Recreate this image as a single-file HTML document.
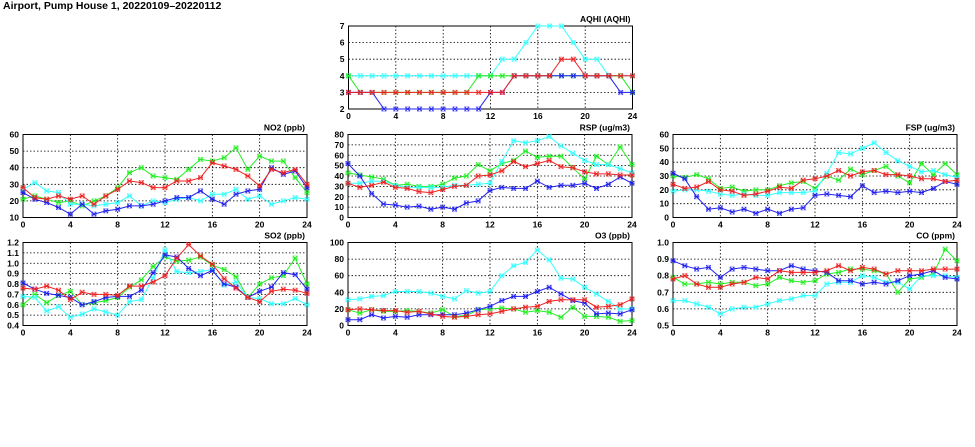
<!DOCTYPE html>
<html><head><meta charset="utf-8"><style>
html,body{margin:0;padding:0;background:#fff}
svg{display:block;font-family:"Liberation Sans",sans-serif;font-weight:bold}
</style></head><body>
<svg id="chart" width="975" height="447" viewBox="0 0 975 447" xmlns="http://www.w3.org/2000/svg">
<text x="3" y="9" font-size="10.5" fill="#000">Airport, Pump House 1, 20220109–20220112</text>
</svg>
<script>
const hours = [0,1,2,3,4,5,6,7,8,9,10,11,12,13,14,15,16,17,18,19,20,21,22,23,24];
const xTicks = [0,4,8,12,16,20,24];

const aqhiTicks = [2,3,4,5,6,7];
const aqhiCyan  = [4,4,4,4,4,4,4,4,4,4,4,4,4,5,5,6,7,7,7,6,5,5,4,4,4];
const aqhiGreen = [4,3,3,3,3,3,3,3,3,3,3,4,4,4,4,4,4,4,4,4,4,4,4,4,3];
const aqhiBlue  = [3,3,3,2,2,2,2,2,2,2,2,2,3,3,4,4,4,4,4,4,4,4,4,3,3];
const aqhiRed   = [3,3,3,3,3,3,3,3,3,3,3,3,3,3,4,4,4,4,5,5,4,4,4,4,4];

const no2Ticks = [10,20,30,40,50,60];
const no2Green = [21,23,21,19,20,17,20,23,28,37,40,35,34,33,39,45,44,46,52,39,47,44,44,34,25];
const no2Cyan  = [27,31,26,25,18,18,17,18,19,23,17,20,19,21,22,20,24,24,27,21,23,18,20,22,21];
const no2Blue  = [25,21,19,16,12,18,12,14,15,17,17,18,20,22,22,26,21,18,24,26,27,40,36,38,28];
const no2Red   = [28,22,21,23,21,23,18,23,27,32,31,28,28,32,32,34,43,41,39,35,29,39,37,39,30];

const rspTicks = [0,10,20,30,40,50,60,70,80];
const rspGreen = [43,41,39,37,31,32,30,30,32,38,40,51,45,52,55,64,58,59,59,48,37,59,51,68,51];
const rspCyan  = [33,33,35,35,31,29,29,29,29,31,31,32,33,54,74,72,74,78,69,62,55,51,51,47,43];
const rspBlue  = [52,40,23,13,12,10,11,8,10,8,14,16,26,29,28,28,35,29,31,31,33,28,32,39,33];
const rspRed   = [33,29,31,34,29,28,25,24,27,30,31,40,41,45,54,49,52,55,49,48,44,42,42,41,41];

const fspTicks = [0,10,20,30,40,50,60];
const fspGreen = [30,29,31,28,21,22,19,20,20,23,25,26,21,30,27,35,31,34,37,30,25,39,31,39,31];
const fspCyan  = [19,20,20,19,17,16,17,16,16,18,18,18,19,32,47,46,50,54,47,41,37,33,34,31,29];
const fspBlue  = [32,28,15,6,7,4,6,3,6,3,6,7,16,17,16,15,23,18,19,18,19,18,21,26,24];
const fspRed   = [24,21,22,26,20,19,16,17,19,22,21,27,28,30,34,30,33,34,31,31,30,28,28,26,27];

const so2Ticks = [0.4,0.5,0.6,0.7,0.8,0.9,1.0,1.1,1.2];
const so2Green = [.60,.70,.62,.69,.73,.60,.62,.64,.67,.77,.84,.97,1.06,1.02,1.03,1.06,.98,.94,.87,.67,.80,.86,.88,1.05,.80];
const so2Cyan  = [.68,.67,.54,.58,.48,.51,.56,.53,.50,.63,.65,.86,1.13,.92,.91,.92,.94,.79,.82,.67,.66,.61,.61,.66,.60];
const so2Blue  = [.81,.75,.71,.69,.67,.60,.63,.67,.68,.68,.74,.91,1.08,1.06,.95,.88,.93,.80,.77,.67,.73,.77,.91,.89,.75];
const so2Red   = [.76,.75,.78,.74,.65,.72,.70,.70,.69,.78,.78,.82,.88,1.05,1.18,1.07,.99,.85,.76,.67,.63,.73,.75,.74,.71];

const o3Ticks = [0,20,40,60,80,100];
const o3Green = [19,15,19,17,17,18,17,15,19,11,12,19,20,21,20,16,18,16,10,22,11,11,10,5,6];
const o3Cyan  = [31,32,35,36,41,41,41,39,35,32,42,39,41,60,72,76,91,79,57,56,46,38,29,20,20];
const o3Blue  = [7,7,13,9,11,10,13,13,13,13,15,19,23,30,35,35,41,46,38,30,27,14,15,14,19];
const o3Red   = [19,20,19,18,18,16,17,14,11,10,11,13,14,17,20,22,23,29,31,31,31,22,23,25,32];

const coTicks = [0.5,0.6,0.7,0.8,0.9,1.0];
const coGreen = [.79,.75,.75,.76,.75,.76,.76,.74,.75,.79,.77,.76,.77,.81,.82,.84,.84,.83,.81,.70,.78,.79,.81,.96,.89];
const coCyan  = [.65,.65,.63,.61,.57,.60,.61,.61,.63,.65,.66,.68,.68,.75,.76,.76,.80,.79,.76,.76,.72,.80,.80,.80,.79];
const coBlue  = [.89,.86,.84,.85,.79,.84,.85,.84,.83,.83,.86,.84,.83,.82,.77,.77,.75,.76,.75,.77,.80,.81,.83,.79,.78];
const coRed   = [.78,.80,.75,.73,.73,.75,.76,.79,.78,.83,.82,.82,.82,.83,.86,.83,.85,.84,.81,.83,.83,.83,.84,.84,.84];

const svg = document.getElementById('chart');
const NS = 'http://www.w3.org/2000/svg';
function mk(tag, attrs, parent){
  const e = document.createElementNS(NS, tag);
  for (const k in attrs) e.setAttribute(k, attrs[k]);
  parent.appendChild(e);
  return e;
}
const COLORS = {green:'#22ee22', cyan:'#33ffff', blue:'#2222ee', red:'#ee2222'};

function panel(name, title, x0, y0, ticks, fmt, series){
  const W = 284, H = 83;
  const lo = ticks[0], hi = ticks[ticks.length-1];
  const xs = h => x0 + h / 24 * W;
  const ys = v => y0 + H - (v - lo) / (hi - lo) * H;
  const g = mk('g', {}, svg);
  
  
  ticks.forEach((t,i) => {
    if (i>0 && i<ticks.length-1) {
      const l = mk('line', {x1:x0, x2:x0+W, y1:ys(t), y2:ys(t), stroke:'#000', 'stroke-width':0.8, 'stroke-dasharray':'1.5,2'}, g);
      
      
    }
    const tx = mk('text', {x:x0-4, y:ys(t)+3, 'font-size':8.5, 'text-anchor':'end'}, g);
    
    
    tx.textContent = fmt(t);
  });
  xTicks.forEach((t,i) => {
    if (i>0 && i<xTicks.length-1) {
      const l = mk('line', {x1:xs(t), x2:xs(t), y1:y0, y2:y0+H, stroke:'#000', 'stroke-width':0.8, 'stroke-dasharray':'1.5,2'}, g);
      
      
    }
    const tx = mk('text', {x:xs(t), y:y0+H+10, 'font-size':8.5, 'text-anchor':'middle'}, g);
    
    
    tx.textContent = t;
  });
  const fr = mk('rect', {x:x0, y:y0, width:W, height:H, fill:'none', stroke:'#000', 'stroke-width':1}, g);
  
  
  const tt = mk('text', {x:x0+W-2, y:y0-4, 'font-size':8.5, 'text-anchor':'end'}, g);
  
  
  tt.textContent = title;
  series.forEach(([cname, vals]) => {
    const c = COLORS[cname];
    const sg = mk('g', {}, g);
    
    
    const pts = vals.map((v,i) => xs(hours[i]).toFixed(1) + ',' + ys(v).toFixed(1)).join(' ');
    mk('polyline', {points:pts, fill:'none', stroke:c, 'stroke-width':1}, sg);
    vals.forEach((v,i) => {
      const px = xs(hours[i]), py = ys(v);
      const m = mk('path', {d:`M${px-2.2},${py-2.2}L${px+2.2},${py+2.2}M${px-2.2},${py+2.2}L${px+2.2},${py-2.2}M${px-2.4},${py}L${px+2.4},${py}`, stroke:c, 'stroke-width':0.9, fill:'none'}, sg);
      
      
      const b = mk('rect', {x:px-2.2, y:py-2.2, width:4.4, height:4.4, stroke:c, 'stroke-width':0.5, 'stroke-opacity':0.6, fill:'none'}, sg);
      
      
    });
  });
}
const f0 = t => String(t), f1 = t => t.toFixed(1);
panel('aqhi', 'AQHI (AQHI)', 348.5, 26, aqhiTicks, f0, [['cyan',aqhiCyan],['green',aqhiGreen],['blue',aqhiBlue],['red',aqhiRed]]);
panel('no2', 'NO2 (ppb)', 23, 134.5, no2Ticks, f0, [['green',no2Green],['cyan',no2Cyan],['blue',no2Blue],['red',no2Red]]);
panel('rsp', 'RSP (ug/m3)', 348, 134.5, rspTicks, f0, [['green',rspGreen],['cyan',rspCyan],['blue',rspBlue],['red',rspRed]]);
panel('fsp', 'FSP (ug/m3)', 673, 134.5, fspTicks, f0, [['green',fspGreen],['cyan',fspCyan],['blue',fspBlue],['red',fspRed]]);
panel('so2', 'SO2 (ppb)', 23, 242.5, so2Ticks, f1, [['green',so2Green],['cyan',so2Cyan],['blue',so2Blue],['red',so2Red]]);
panel('o3', 'O3 (ppb)', 348, 242.5, o3Ticks, f0, [['green',o3Green],['cyan',o3Cyan],['blue',o3Blue],['red',o3Red]]);
panel('co', 'CO (ppm)', 673, 242.5, coTicks, f1, [['green',coGreen],['cyan',coCyan],['blue',coBlue],['red',coRed]]);
</script>
</body></html>
